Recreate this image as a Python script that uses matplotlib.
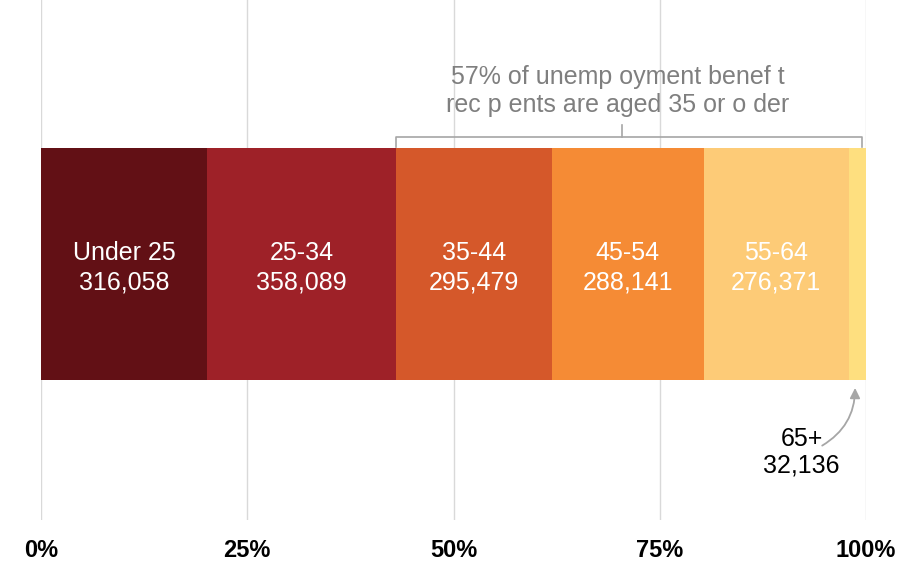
import matplotlib.pyplot as plt
from matplotlib.patches import FancyArrowPatch

plt.rcParams['font.family'] = ['Liberation Sans', 'DejaVu Sans']

age_groups = ["Under 25", "25-34", "35-44", "45-54", "55-64", "65+"]
recipients = [316058, 358089, 295479, 288141, 276371, 32136]
colors = ["#621015", "#9e2128", "#d5582a", "#f58b35", "#fdcb77", "#fedf7f"]
tick_values = [0, 25, 50, 75, 100]
tick_labels = ["0%", "25%", "50%", "75%", "100%"]
note = "57% of unemp oyment benef t\nrec p ents are aged 35 or o der"

total = sum(recipients)
shares = [100 * v / total for v in recipients]

fig = plt.figure(figsize=(9.13, 5.64), dpi=100)
ax = fig.add_axes([41 / 913, 44 / 564, 825 / 913, 520 / 564])
ax.set_xlim(0, 100)
ax.set_ylim(0, 1)

for x in tick_values:
    ax.axvline(x, color="#d9d9d9", lw=1, zorder=0)

bar_y = 1 - 264 / 520
bar_h = 232 / 520
left = 0
for name, v, s, c in zip(age_groups, recipients, shares, colors):
    ax.barh(bar_y, s, left=left, height=bar_h, color=c, zorder=2)
    if name != "65+":
        ax.text(left + s / 2, bar_y - 0.007, "{}\n{:,}".format(name, v), color="white",
                ha="center", va="center", fontsize=18, linespacing=1.32, zorder=3)
    left += s

# small last segment labelled outside with an arrow
last_share = shares[-1]
last_mid = 100 - last_share / 2
ax.text(92.2, 1 - 452 / 520, "{}\n{:,}".format(age_groups[-1], recipients[-1]),
        ha="center", va="center", fontsize=18, linespacing=1.15, color="black", zorder=3)
arrow = FancyArrowPatch((94.4, 1 - 447 / 520), (last_mid - 0.3, bar_y - bar_h / 2 - 0.01),
                        connectionstyle="arc3,rad=0.3", arrowstyle="-|>,head_length=6,head_width=3",
                        color="#a6a6a6", lw=1.3, zorder=3)
ax.add_patch(arrow)

# bracket over 35+ groups
b_left = shares[0] + shares[1]
b_right = 100 - 0.5
b_mid = (b_left + b_right) / 2 - 0.8
y_base = 1 - 147 / 520
y_top = 1 - 137 / 520
y_tip = 1 - 125 / 520
ax.plot([b_left, b_left, b_right, b_right], [y_base, y_top, y_top, y_base],
        color="#a6a6a6", lw=1.2, zorder=3, solid_joinstyle="round")
ax.plot([b_mid, b_mid], [y_top, y_tip], color="#a6a6a6", lw=1.2, zorder=3)
ax.text(b_mid - 0.6, 1 - 91 / 520, note, ha="center", va="center", fontsize=18,
        color="#7f7f7f", linespacing=1.2, zorder=3)

ax.set_xticks(tick_values)
ax.set_xticklabels(tick_labels, fontsize=17, fontweight="bold")
ax.tick_params(axis="x", length=0, pad=14)
ax.set_yticks([])
for sp in ax.spines.values():
    sp.set_visible(False)

fig.savefig("out.png", dpi=100)
